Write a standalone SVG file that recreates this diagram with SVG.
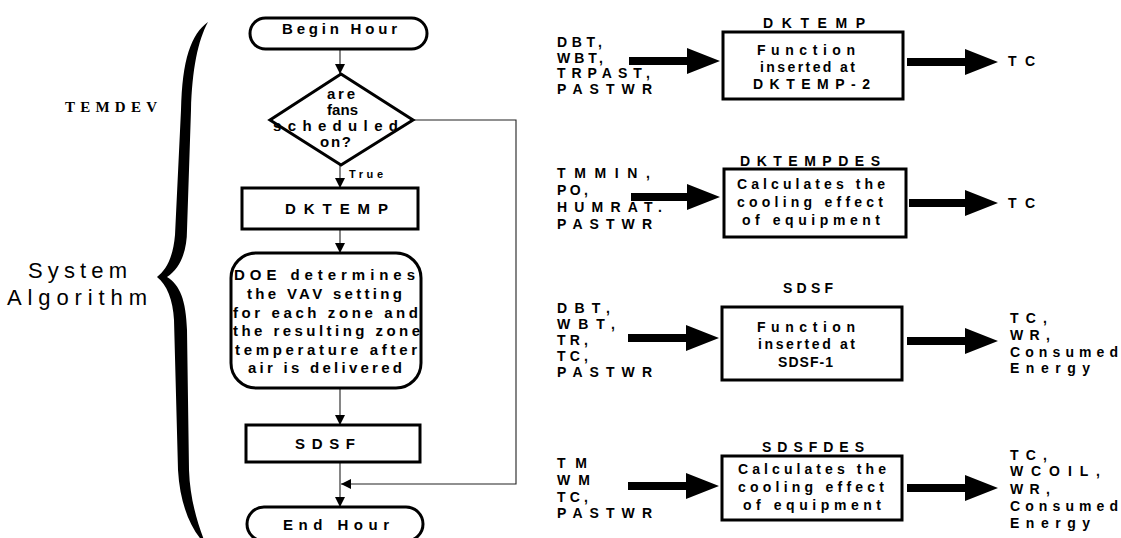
<svg xmlns="http://www.w3.org/2000/svg" width="1121" height="538" viewBox="0 0 1121 538">
<defs>
<style>
.t{font-family:"Liberation Sans",Arial,sans-serif;font-weight:bold;font-size:14px;fill:#000}
.l{font-family:"Liberation Sans",Arial,sans-serif;font-weight:bold;font-size:15px;fill:#000}
.s{font-family:"Liberation Sans",Arial,sans-serif;font-size:22px;fill:#000}
.r{font-family:"Liberation Serif","Times New Roman",serif;font-weight:bold;font-size:15px;fill:#000}
.box{fill:#fff;stroke:#000;stroke-width:3}
.flow{fill:none;stroke:#222;stroke-width:1.1}
.big{fill:#000;stroke:none}
</style>
<marker id="ah" viewBox="0 0 10 10" refX="10" refY="5" markerWidth="10" markerHeight="10" markerUnits="userSpaceOnUse" orient="auto">
<path d="M0,0 L10,5 L0,10 Z" fill="#000"/>
</marker>
</defs>
<rect width="1121" height="538" fill="#fff"/>

<g id="brace">
<path class="big" d="M208,22 C191,34 182,60 181,110 L175,235 C173,258 166,270 157,277 C167,285 173,300 174,320 L178,470 C180,505 191,530 206,545 C198,525 190,500 189,470 L187,330 C186,300 180,285 167,277 C181,268 187,250 187,230 L191,110 C192,70 198,40 208,22 Z"/>
</g>
<g id="labels">
<text class="r" x="65" y="112" textLength="92" lengthAdjust="spacing">TEMDEV</text>
<text class="s" x="28" y="278" textLength="99" lengthAdjust="spacing">System</text>
<text class="s" x="7" y="305" textLength="140" lengthAdjust="spacing">Algorithm</text>
</g>

<g id="connectors">
<line class="flow" x1="340" y1="49" x2="340" y2="74" marker-end="url(#ah)"/>
<line class="flow" x1="340" y1="165" x2="340" y2="188" marker-end="url(#ah)"/>
<line class="flow" x1="340" y1="229" x2="340" y2="253" marker-end="url(#ah)"/>
<line class="flow" x1="340" y1="388" x2="340" y2="425" marker-end="url(#ah)"/>
<line class="flow" x1="340" y1="462" x2="340" y2="507" marker-end="url(#ah)"/>
<polyline class="flow" points="413,120 516,120 516,484 341,484" marker-end="url(#ah)"/>
<text class="t" x="349" y="178" style="font-size:11px" textLength="34" lengthAdjust="spacing">True</text>
<polygon class="big" points="629,57 687,57 687,48 720,61 687,74 687,65 629,65"/>
<polygon class="big" points="907,58 965,58 965,49 998,62 965,75 965,66 907,66"/>
<polygon class="big" points="631,193 687,193 687,184 720,197 687,210 687,201 631,201"/>
<polygon class="big" points="909,199 965,199 965,190 998,203 965,216 965,207 909,207"/>
<polygon class="big" points="628,334 686,334 686,325 719,338 686,351 686,342 628,342"/>
<polygon class="big" points="907,337 965,337 965,328 998,341 965,354 965,345 907,345"/>
<polygon class="big" points="628,482 686,482 686,473 719,486 686,499 686,490 628,490"/>
<polygon class="big" points="907,484 965,484 965,475 998,488 965,501 965,492 907,492"/>
</g>

<g id="begin-hour">
<rect class="box" x="250" y="18" width="177" height="31" rx="15.5"/>
<text class="l" x="282" y="34" textLength="115" lengthAdjust="spacing">Begin Hour</text>
</g>
<g id="fans-decision">
<polygon class="box" points="341,74 413,120 341,165 270,120"/>
<text class="l" x="327" y="99" textLength="28" lengthAdjust="spacing">are</text>
<text class="l" x="327" y="115" textLength="31" lengthAdjust="spacing">fans</text>
<text class="l" x="273" y="131" textLength="125" lengthAdjust="spacing">scheduled</text>
<text class="l" x="320" y="147" textLength="31" lengthAdjust="spacing">on?</text>
</g>
<g id="dktemp-step">
<rect class="box" x="242" y="188" width="176" height="41"/>
<text class="l" x="285" y="214" textLength="103" lengthAdjust="spacing">DKTEMP</text>
</g>
<g id="doe-step">
<rect class="box" x="231" y="253" width="190" height="135" rx="25"/>
<text class="l" x="234" y="280" textLength="181" lengthAdjust="spacing">DOE determines</text>
<text class="l" x="247" y="299" textLength="155" lengthAdjust="spacing">the VAV setting</text>
<text class="l" x="233" y="318" textLength="185" lengthAdjust="spacing">for each zone and</text>
<text class="l" x="233" y="336" textLength="187" lengthAdjust="spacing">the resulting zone</text>
<text class="l" x="235" y="355" textLength="182" lengthAdjust="spacing">temperature after</text>
<text class="l" x="248" y="373" textLength="154" lengthAdjust="spacing">air is delivered</text>
</g>
<g id="sdsf-step">
<rect class="box" x="246" y="425" width="174" height="37"/>
<text class="l" x="295" y="449" textLength="60" lengthAdjust="spacing">SDSF</text>
</g>
<g id="end-hour">
<rect class="box" x="247" y="507" width="176" height="34" rx="17"/>
<text class="l" x="283" y="530" textLength="106" lengthAdjust="spacing">End Hour</text>
</g>

<g id="dktemp-fn">
<text class="t" x="557" y="47" textLength="45" lengthAdjust="spacing">DBT,</text>
<text class="t" x="557" y="63" textLength="46" lengthAdjust="spacing">WBT,</text>
<text class="t" x="557" y="78" textLength="93" lengthAdjust="spacing">TRPAST,</text>
<text class="t" x="557" y="94" textLength="95" lengthAdjust="spacing">PASTWR</text>
<text class="t" x="763" y="28" textLength="102" lengthAdjust="spacing">DKTEMP</text>
<rect class="box" x="723" y="32" width="180" height="67"/>
<text class="t" x="757" y="55" textLength="98" lengthAdjust="spacing">Function</text>
<text class="t" x="760" y="72" textLength="95" lengthAdjust="spacing">inserted at</text>
<text class="t" x="753" y="89" textLength="117" lengthAdjust="spacing">DKTEMP-2</text>
<text class="t" x="1008" y="66" textLength="27" lengthAdjust="spacing">TC</text>
</g>
<g id="dktempdes-fn">
<text class="t" x="557" y="178" textLength="93" lengthAdjust="spacing">TMMIN,</text>
<text class="t" x="557" y="195" textLength="31" lengthAdjust="spacing">PO,</text>
<text class="t" x="557" y="212" textLength="105" lengthAdjust="spacing">HUMRAT.</text>
<text class="t" x="557" y="229" textLength="95" lengthAdjust="spacing">PASTWR</text>
<text class="t" x="740" y="166" textLength="140" lengthAdjust="spacing">DKTEMPDES</text>
<rect class="box" x="724" y="169" width="182" height="68"/>
<text class="t" x="737" y="189" textLength="148" lengthAdjust="spacing">Calculates the</text>
<text class="t" x="737" y="207" textLength="146" lengthAdjust="spacing">cooling effect</text>
<text class="t" x="742" y="225" textLength="138" lengthAdjust="spacing">of equipment</text>
<text class="t" x="1008" y="208" textLength="27" lengthAdjust="spacing">TC</text>
</g>
<g id="sdsf-fn">
<text class="t" x="557" y="313" textLength="53" lengthAdjust="spacing">DBT,</text>
<text class="t" x="557" y="329" textLength="58" lengthAdjust="spacing">WBT,</text>
<text class="t" x="557" y="345" textLength="31" lengthAdjust="spacing">TR,</text>
<text class="t" x="557" y="361" textLength="31" lengthAdjust="spacing">TC,</text>
<text class="t" x="557" y="377" textLength="95" lengthAdjust="spacing">PASTWR</text>
<text class="t" x="783" y="293" textLength="50" lengthAdjust="spacing">SDSF</text>
<rect class="box" x="722" y="307" width="180" height="73"/>
<text class="t" x="757" y="332" textLength="98" lengthAdjust="spacing">Function</text>
<text class="t" x="758" y="349" textLength="97" lengthAdjust="spacing">inserted at</text>
<text class="t" x="778" y="367" textLength="55" lengthAdjust="spacing">SDSF-1</text>
<text class="t" x="1010" y="323" textLength="37" lengthAdjust="spacing">TC,</text>
<text class="t" x="1010" y="340" textLength="40" lengthAdjust="spacing">WR,</text>
<text class="t" x="1010" y="357" textLength="108" lengthAdjust="spacing">Consumed</text>
<text class="t" x="1010" y="373" textLength="80" lengthAdjust="spacing">Energy</text>
</g>
<g id="sdsfdes-fn">
<text class="t" x="557" y="468" textLength="30" lengthAdjust="spacing">TM</text>
<text class="t" x="557" y="485" textLength="33" lengthAdjust="spacing">WM</text>
<text class="t" x="557" y="502" textLength="31" lengthAdjust="spacing">TC,</text>
<text class="t" x="557" y="518" textLength="95" lengthAdjust="spacing">PASTWR</text>
<text class="t" x="762" y="452" textLength="102" lengthAdjust="spacing">SDSFDES</text>
<rect class="box" x="722" y="456" width="180" height="64"/>
<text class="t" x="738" y="474" textLength="148" lengthAdjust="spacing">Calculates the</text>
<text class="t" x="738" y="492" textLength="146" lengthAdjust="spacing">cooling effect</text>
<text class="t" x="743" y="510" textLength="138" lengthAdjust="spacing">of equipment</text>
<text class="t" x="1010" y="460" textLength="37" lengthAdjust="spacing">TC,</text>
<text class="t" x="1010" y="476" textLength="90" lengthAdjust="spacing">WCOIL,</text>
<text class="t" x="1010" y="494" textLength="40" lengthAdjust="spacing">WR,</text>
<text class="t" x="1010" y="511" textLength="108" lengthAdjust="spacing">Consumed</text>
<text class="t" x="1010" y="528" textLength="80" lengthAdjust="spacing">Energy</text>
</g>
</svg>
